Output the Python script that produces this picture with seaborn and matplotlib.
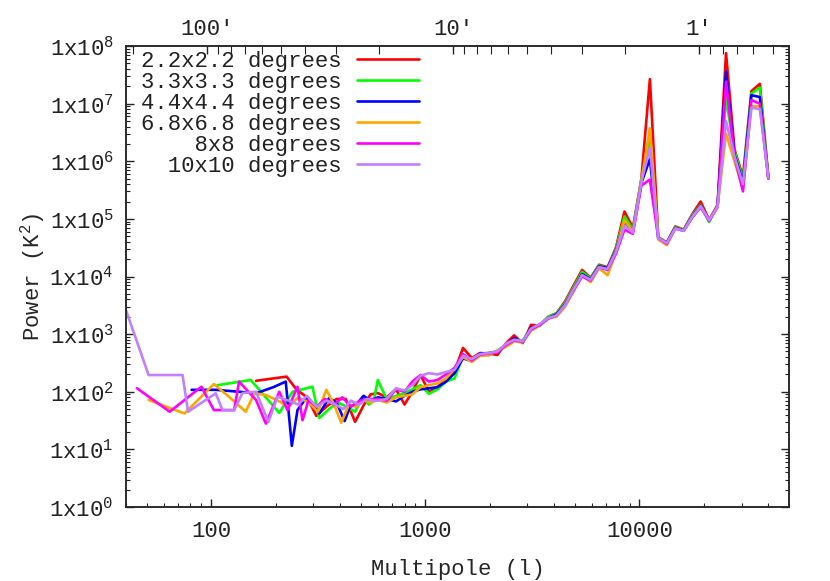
import numpy as np
import pandas as pd
import matplotlib
matplotlib.use('Agg')
import matplotlib.pyplot as plt
import matplotlib.ticker as mticker
import seaborn as sns

# field sizes and their colours
labels = ['2.2x2.2 degrees', '3.3x3.3 degrees', '4.4x4.4 degrees',
          '6.8x6.8 degrees', '8x8 degrees', '10x10 degrees']
colors = ['#ff0000', '#00ff00', '#0000ff', '#ffa500', '#ff00ff', '#c080ff']

# multipole bins shared by all fields above l ~ 600
ell_high = [600, 660, 730, 800, 870, 950, 1040, 1140, 1250, 1370, 1500, 1650,
            1800, 1980, 2170, 2380, 2600, 2850, 3120, 3420, 3750, 4100, 4500,
            4930, 5400, 5920, 6480, 7100, 7780, 8520, 9330, 10220, 11200, 12260,
            13430, 14710, 16110, 17650, 19330, 21170, 23190, 25400, 27820, 30470,
            33370, 36550, 40030]

# low-l bins, one set per field
ell_22_low = [162, 225, 250, 280, 310, 345, 385, 425, 470, 515, 555]
pow_22_low = [155, 183, 110, 80, 38, 55, 75, 75, 30, 58, 90]
ell_33_low = [107, 153, 208, 240, 297, 320, 355, 390, 430, 470, 510, 545, 575]
pow_33_low = [130, 160, 43, 100, 122, 35, 50, 65, 55, 45, 80, 60, 70]
ell_44_low = [81, 105, 135, 162, 195, 223, 238, 253, 280, 320, 355, 385, 420,
              445, 480, 515, 555]
pow_44_low = [108, 108, 100, 94, 120, 150, 11.5, 48, 82, 42, 77, 65, 31, 55,
              62, 85, 70]
ell_68_low = [51, 75, 103, 121, 145, 159, 180, 205, 230, 255, 285, 315, 345,
              375, 405, 440, 475, 515, 555]
pow_68_low = [72, 42, 136, 82, 45, 94, 88, 70, 55, 80, 65, 45, 108, 60, 29, 60,
              55, 72, 65]
ell_8_low = [45, 64, 90, 103, 128, 135, 162, 180, 208, 227, 253, 267, 285, 310,
             340, 375, 410, 450, 495, 545]
pow_8_low = [115, 45, 122, 48, 48, 150, 72, 28, 100, 48, 122, 32, 72, 55, 75,
             60, 80, 55, 70, 75]
ell_10_low = [36, 51, 73.5, 78, 105, 113, 128, 140, 162, 185, 204, 230, 255,
              280, 310, 345, 380, 415, 450, 490, 535, 575]
pow_10_low = [8000, 195, 195, 45, 94, 48, 48, 95, 100, 30, 82, 70, 60, 85, 55,
              70, 60, 50, 70, 60, 75, 70]

# power on the shared bins
pow_22_high = [95, 80, 110, 60, 100, 195, 100, 122, 160, 225, 575, 385, 470, 460,
               435, 690, 950, 700, 1450, 1400, 2000, 2300, 3700, 7000, 13000,
               9500, 16000, 14500, 32000, 134000, 70000, 500000, 2.66e7, 48000,
               39000, 74000, 65000, 120000, 200000, 96000, 175000, 7.5e7, 1.6e6,
               5.4e5, 1.65e7, 2.2e7, 5.4e5]
pow_33_high = [160, 75, 85, 95, 110, 130, 92, 110, 150, 170, 420, 370, 450, 430,
               520, 650, 800, 780, 1250, 1450, 2000, 2300, 3500, 6500, 12000,
               9300, 15500, 14000, 30000, 110000, 65000, 480000, 2.35e6, 47000,
               38000, 72000, 64000, 115000, 175000, 88000, 170000, 1.2e7, 1.5e6,
               4.8e5, 1.5e7, 1.9e7, 5.2e5]
pow_44_high = [80, 75, 68, 85, 100, 110, 115, 120, 150, 210, 380, 340, 460, 470,
               500, 640, 850, 720, 1300, 1400, 1900, 2200, 3300, 6000, 11000,
               9000, 15000, 14000, 28000, 90000, 62000, 420000, 1.1e6, 45000,
               38000, 70000, 63000, 110000, 170000, 95000, 165000, 3.6e7, 1.3e6,
               4.3e5, 1.4e7, 1.3e7, 5.1e5]
pow_68_high = [72, 65, 80, 85, 90, 120, 130, 140, 170, 250, 400, 330, 420, 430,
               520, 600, 750, 720, 1150, 1400, 1900, 2000, 3000, 5500, 10500,
               8000, 14000, 10500, 26000, 95000, 60000, 450000, 3.75e6, 44000,
               35000, 68000, 62000, 105000, 165000, 95000, 165000, 3.0e6, 1.0e6,
               3.3e5, 9.0e6, 9.0e6, 5.0e5]
pow_8_high = [75, 70, 110, 100, 150, 195, 150, 160, 200, 260, 450, 350, 440, 460,
              480, 650, 780, 740, 1200, 1450, 1850, 2100, 3200, 5800, 10000,
              8500, 14500, 13000, 25000, 65000, 55000, 380000, 4.8e5, 46000,
              37000, 68000, 62000, 105000, 160000, 92000, 160000, 2.4e7, 1.2e6,
              3.0e5, 1.15e7, 1.0e7, 5.0e5]
pow_10_high = [70, 75, 115, 105, 130, 190, 210, 200, 220, 240, 420, 370, 450, 470,
               500, 680, 800, 760, 1250, 1500, 1900, 2100, 3200, 6000, 10500,
               8800, 14500, 13500, 27000, 75000, 58000, 440000, 1.7e6, 46000,
               38000, 68000, 62000, 108000, 165000, 95000, 160000, 5.0e6, 1.2e6,
               4.0e5, 8.5e6, 8.0e6, 5.2e5]

ell_low = [ell_22_low, ell_33_low, ell_44_low, ell_68_low, ell_8_low, ell_10_low]
pow_low = [pow_22_low, pow_33_low, pow_44_low, pow_68_low, pow_8_low, pow_10_low]
pow_high = [pow_22_high, pow_33_high, pow_44_high, pow_68_high, pow_8_high,
            pow_10_high]

frames = []
for lab, el, pl, ph in zip(labels, ell_low, pow_low, pow_high):
    frames.append(pd.DataFrame({'ell': el + ell_high, 'power': pl + ph,
                                'field': lab}))
df = pd.concat(frames, ignore_index=True)

sns.set_theme(style='ticks')
plt.rcParams['font.family'] = ['Liberation Mono', 'DejaVu Sans Mono']
plt.rcParams['axes.linewidth'] = 1.1
plt.rcParams['text.color'] = '#222222'

fig = plt.figure(figsize=(8.3, 5.81), dpi=100)
ax = fig.add_axes([126 / 830, 1 - 507 / 581, 663 / 830, 461 / 581])

sns.lineplot(data=df, x='ell', y='power', hue='field', hue_order=labels,
             palette=colors, estimator=None, sort=False, linewidth=1.9,
             legend=False, ax=ax)

ax.set_xscale('log')
ax.set_yscale('log')
ax.set_xlim(40, 50000)
ax.set_ylim(1, 1e8)

ax.yaxis.set_major_locator(mticker.LogLocator(base=10, numticks=20))
ax.yaxis.set_minor_locator(mticker.LogLocator(base=10, subs=np.arange(2, 10),
                                              numticks=200))
ax.yaxis.set_major_formatter(mticker.FuncFormatter(
    lambda v, p: r'1x10$^{\mathregular{%d}}$' % round(np.log10(v))))
ax.yaxis.set_minor_formatter(mticker.NullFormatter())
ax.xaxis.set_major_formatter(mticker.FuncFormatter(lambda v, p: '%d' % v))
ax.xaxis.set_minor_formatter(mticker.NullFormatter())

ax.tick_params(which='both', direction='in', top=False, right=True,
               colors='#222222', labelsize=16)
ax.tick_params(which='major', length=6, width=1)
ax.tick_params(which='minor', length=3, width=0.8)
ax.tick_params(axis='y', pad=9)
ax.tick_params(axis='x', pad=10)

ax.set_xlabel('Multipole (l)', fontsize=16, labelpad=12)
ax.set_ylabel(r'Power (K$^{\mathregular{2}}$)', fontsize=16, labelpad=2)

# angular scale on top
ax2 = ax.twiny()
ax2.set_xscale('log')
ax2.set_xlim(214, 0.43)
ax2.xaxis.set_major_locator(mticker.FixedLocator([100, 10, 1]))
ax2.xaxis.set_major_formatter(mticker.FixedFormatter(['100\u2032', '10\u2032', '1\u2032']))
ax2.xaxis.set_minor_locator(mticker.LogLocator(base=10, subs=np.arange(2, 10),
                                               numticks=200))
ax2.xaxis.set_minor_formatter(mticker.NullFormatter())
ax2.tick_params(which='both', direction='in', colors='#222222', labelsize=16, pad=4)
ax2.tick_params(which='major', length=6, width=1)
ax2.tick_params(which='minor', length=6, width=0.8)

handles = [plt.Line2D([], [], color=c, lw=1.9) for c in colors]
width = max(len(s) for s in labels)
ax.legend(handles, [s.rjust(width) for s in labels], loc='upper left',
          bbox_to_anchor=(0.022, 0.99), frameon=False, markerfirst=False,
          fontsize=16, handlelength=2.8, handletextpad=0.7, labelspacing=0.0,
          borderpad=0, borderaxespad=0)

fig.savefig('out.png', dpi=100)
